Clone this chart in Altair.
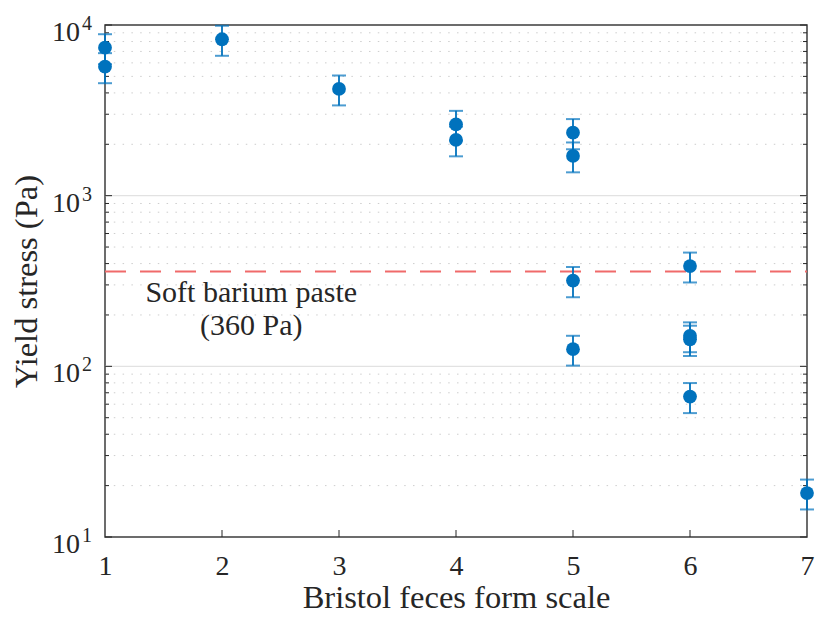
import altair as alt
import pandas as pd

# Yield stress of stool samples against Bristol form scale (mean with error range)
bristol = [1, 1, 2, 3, 4, 4, 5, 5, 5, 5, 6, 6, 6, 6, 7]
yield_pa = [7360, 5700, 8250, 4220, 2620, 2120, 2340, 1710, 318, 126, 387, 151, 144, 66.5, 18.1]
err_low = [5890, 4560, 6600, 3380, 2100, 1700, 1870, 1370, 254, 101, 310, 121, 115, 53.2, 14.5]
err_high = [8830, 6840, 9900, 5060, 3140, 2540, 2810, 2050, 382, 151, 464, 181, 173, 79.8, 21.7]

x_ticks = [1, 2, 3, 4, 5, 6, 7]
x_inner_ticks = [2, 3, 4, 5, 6]
decades = [10, 100, 1000, 10000]
decade_exp = ["1", "2", "3", "4"]
major_grid = [100, 1000]
minor_grid = [20, 30, 40, 50, 60, 70, 80, 90,
              200, 300, 400, 500, 600, 700, 800, 900,
              2000, 3000, 4000, 5000, 6000, 7000, 8000, 9000]

paste_stress = 360
paste_label = ["Soft barium paste", "(360 Pa)"]

W, H = 702, 512
FONT = "Liberation Serif"
TXT = "#262626"
BLUE = "#0072BD"

df = pd.DataFrame({"x": bristol, "y": yield_pa, "lo": err_low, "hi": err_high})
dec_df = pd.DataFrame({"v": decades, "e": decade_exp})
minor_df = pd.DataFrame({"v": minor_grid})
major_df = pd.DataFrame({"v": major_grid})
xt_df = pd.DataFrame({"x": x_inner_ticks})
paste_df = pd.DataFrame({"x": [2.25], "v": [paste_stress], "t": [paste_label]})

xs = alt.Scale(domain=[1, 7], nice=False, zero=False)
ys = alt.Scale(type="log", domain=[10, 10000], nice=False)

x_axis = alt.Axis(
    values=x_ticks, title="Bristol feces form scale", format="d",
    labelFont=FONT, labelFontSize=28, labelColor=TXT, labelPadding=15,
    labelFlush=False, labelOverlap=False,
    titleFont=FONT, titleFontSize=32.5, titleColor=TXT, titleFontWeight="normal",
    titlePadding=1, ticks=False, domain=False, grid=False)
y_axis = alt.Axis(
    values=decades, labels=False, ticks=False, domain=False, grid=False,
    title="Yield stress (Pa)", titleFont=FONT, titleFontSize=32.5,
    titleColor=TXT, titleFontWeight="normal", titlePadding=62)


def xq(field):
    return alt.X(f"{field}:Q", scale=xs, axis=x_axis, title="Bristol feces form scale")


def yq(field):
    return alt.Y(f"{field}:Q", scale=ys, axis=y_axis, title="Yield stress (Pa)")


minor_lines = alt.Chart(minor_df).mark_rule(
    color="#cdcdcd", strokeDash=[1.5, 7.3], strokeWidth=1
).encode(y=yq("v"), x=alt.value(0), x2=alt.value(W))

major_lines = alt.Chart(major_df).mark_rule(
    color="#e2e2e2", strokeWidth=1.2
).encode(y=yq("v"), x=alt.value(0), x2=alt.value(W))

minor_tick_l = alt.Chart(minor_df).mark_rule(color=TXT, strokeWidth=1).encode(
    y=yq("v"), x=alt.value(0), x2=alt.value(4))
minor_tick_r = alt.Chart(minor_df).mark_rule(color=TXT, strokeWidth=1).encode(
    y=yq("v"), x=alt.value(W - 4), x2=alt.value(W))
major_tick_l = alt.Chart(dec_df).mark_rule(color=TXT, strokeWidth=1).encode(
    y=yq("v"), x=alt.value(0), x2=alt.value(7))
major_tick_r = alt.Chart(dec_df).mark_rule(color=TXT, strokeWidth=1).encode(
    y=yq("v"), x=alt.value(W - 7), x2=alt.value(W))
x_tick_b = alt.Chart(xt_df).mark_rule(color=TXT, strokeWidth=1).encode(
    x=xq("x"), y=alt.value(H), y2=alt.value(H - 7))

paste_line = alt.Chart(paste_df).mark_rule(
    color="#f06a6a", strokeDash=[21, 14], strokeWidth=2
).encode(y=yq("v"), x=alt.value(0), x2=alt.value(W))

paste_text = alt.Chart(paste_df).mark_text(
    font=FONT, fontSize=30, color=TXT, align="center", baseline="top",
    lineHeight=33, dy=7
).encode(x=xq("x"), y=yq("v"), text="t")

bars = alt.Chart(df).mark_rule(color=BLUE, strokeWidth=1.8).encode(
    x=xq("x"), y=yq("lo"), y2="hi")
cap_lo = alt.Chart(df).mark_tick(color=BLUE, orient="horizontal", size=14, thickness=2).encode(
    x=xq("x"), y=yq("lo"))
cap_hi = alt.Chart(df).mark_tick(color=BLUE, orient="horizontal", size=14, thickness=2).encode(
    x=xq("x"), y=yq("hi"))

points = alt.Chart(df).mark_circle(color=BLUE, size=190, opacity=1).encode(
    x=xq("x"), y=yq("y"))

base_lbl = alt.Chart(dec_df).mark_text(
    font=FONT, fontSize=28, color=TXT, align="right", baseline="alphabetic", dy=16
).encode(y=yq("v"), x=alt.value(-25), text=alt.value("10"))
exp_lbl = alt.Chart(dec_df).mark_text(
    font=FONT, fontSize=20, color=TXT, align="left", baseline="alphabetic", dy=5
).encode(y=yq("v"), x=alt.value(-23), text="e:N")

chart = alt.layer(
    minor_lines, major_lines, minor_tick_l, minor_tick_r, major_tick_l, major_tick_r,
    x_tick_b, paste_line, paste_text, bars, cap_lo, cap_hi, points, base_lbl, exp_lbl
).properties(
    width=W, height=H,
    autosize=alt.AutoSizeParams(type="none"),
    padding={"left": 105, "top": 25, "right": 12, "bottom": 90},
).configure_view(
    stroke="#3c3c3c", strokeWidth=1.5
)

chart.save("out.html", embed_options={"renderer": "svg", "actions": False})
